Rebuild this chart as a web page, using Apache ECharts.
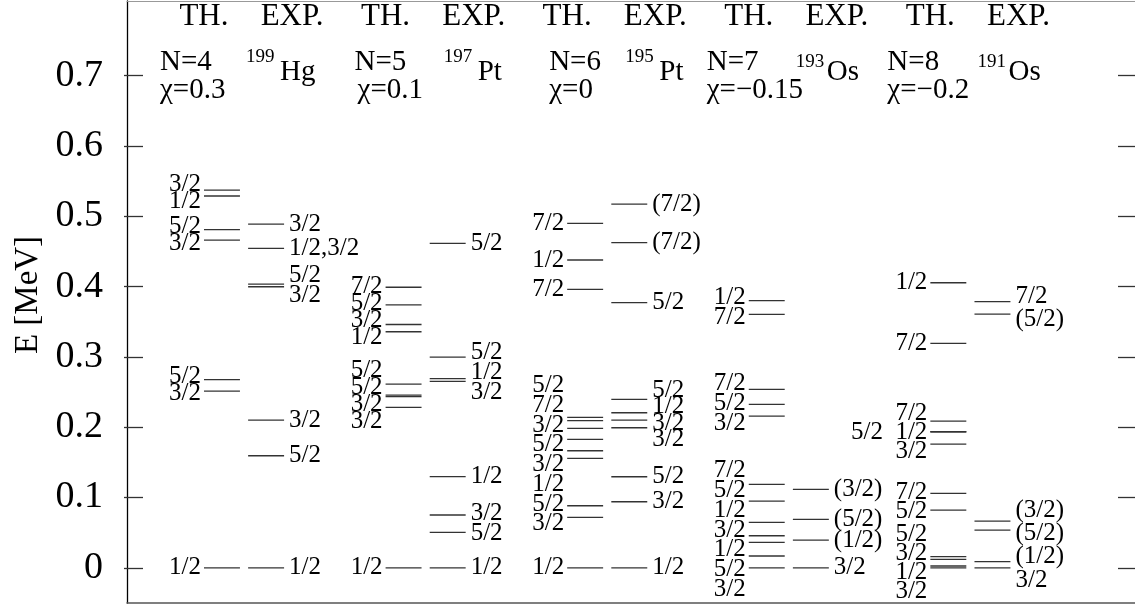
<!DOCTYPE html>
<html lang="en">
<head>
    <meta charset="UTF-8">
    <title>level scheme</title>
    <script src="https://cdn.jsdelivr.net/npm/echarts@6/dist/echarts.min.js"></script>
    <style>
        html, body { margin: 0; height: 100%; background: #fff; }
        #app { width: 1135px; height: 609px; }
    </style>
</head>
<body>
<div id="app"></div>
<script>
    // energies in MeV, spin labels
    var th4 = [[0, '1/2'], [0.2514, '3/2'], [0.2675, '5/2'], [0.466, '3/2'], [0.481, '5/2'], [0.5287, '1/2'], [0.537, '3/2']];
    var hg199 = [[0, '1/2'], [0.1594, '5/2'], [0.2101, '3/2'], [0.3997, '3/2'], [0.4035, '5/2'], [0.4543, '1/2,3/2'], [0.4888, '3/2']];
    var th5 = [[0, '1/2'], [0.2282, '3/2'], [0.2435, '3/2'], [0.2455, '5/2'], [0.2613, '5/2'], [0.3357, '1/2'], [0.346, '3/2'], [0.374, '5/2'], [0.399, '7/2']];
    var pt197 = [[0, '1/2'], [0.0505, '5/2'], [0.0751, '3/2'], [0.1296, '1/2'], [0.265, '3/2'], [0.269, '1/2'], [0.2997, '5/2'], [0.4614, '5/2']];
    var th6 = [[0, '1/2'], [0.0718, '3/2'], [0.0883, '5/2'], [0.1557, '1/2'], [0.1665, '3/2'], [0.1827, '5/2'], [0.1983, '3/2'], [0.2092, '7/2'], [0.214, '5/2'], [0.396, '7/2'], [0.4377, '1/2'], [0.4898, '7/2']];
    var pt195 = [[0, '1/2'], [0.094, '3/2'], [0.1295, '5/2'], [0.1992, '3/2'], [0.2101, '3/2'], [0.2205, '1/2'], [0.2396, '5/2'], [0.377, '5/2'], [0.4623, '(7/2)'], [0.5173, '(7/2)']];
    var th7 = [[0, '3/2'], [0.0168, '5/2'], [0.0363, '1/2'], [0.0456, '3/2'], [0.0647, '1/2'], [0.095, '5/2'], [0.1187, '7/2'], [0.2158, '3/2'], [0.2325, '5/2'], [0.2538, '7/2'], [0.3604, '7/2'], [0.380, '1/2']];
    var os193 = [[0, '3/2'], [0.0395, '(1/2)'], [0.069, '(5/2)'], [0.1116, '(3/2)']];
    var th8 = [[0, '3/2'], [0.0026, '1/2'], [0.0121, '3/2'], [0.0158, '5/2'], [0.0822, '5/2'], [0.1059, '7/2'], [0.176, '3/2'], [0.1935, '5/2'], [0.1935, '1/2'], [0.2087, '7/2'], [0.3192, '7/2'], [0.4054, '1/2']];
    var os191 = [[0, '3/2'], [0.0087, '(1/2)'], [0.0537, '(5/2)'], [0.0665, '(3/2)'], [0.3609, '(5/2)'], [0.3784, '7/2']];

    var nHead = ['N=4', 'N=5', 'N=6', 'N=7', 'N=8'];
    var chiHead = ['\u03c7=0.3', '\u03c7=0.1', '\u03c7=0', '\u03c7=\u22120.15', '\u03c7=\u22120.2'];
    var massNum = ['199', '197', '195', '193', '191'];
    var element = ['Hg', 'Pt', 'Pt', 'Os', 'Os'];
    var ticks = [0, 0.1, 0.2, 0.3, 0.4, 0.5, 0.6, 0.7];

    var thCols = [th4, th5, th6, th7, th8];
    var expCols = [hg199, pt197, pt195, os193, os191];
    var thGap = [0.024, 0.024, 0.028, 0.028, 0.027];
    var expGap = [0.028, 0.028, 0.023, 0.028, 0.033];

    var EXP_DX = 0.243;   // exp column offset from th column
    var HW = 0.099;       // half width of a level line
    var FONT = '"Liberation Serif", "Times New Roman", serif';

    // header layout, px offsets from column centres
    var nDx = [-62, -49, -36, -60, -61];
    var chiDx = [-62, -46, -36, -60, -61];
    var supDx = [-20, -4, -4, -15, -15];
    var supY = [57.5, 57.5, 57.5, 62, 62];
    var elDx = [34, 34, 34, 31, 31];

    // push labels apart so they don't overlap, keeping groups centred
    function layoutLabels(levels, gap) {
        var sorted = levels.slice().sort(function (a, b) { return a[0] - b[0]; });
        var groups = [];
        sorted.forEach(function (l) {
            var last = groups[groups.length - 1];
            if (last && Math.abs(last.e - l[0]) < 1e-9) last.text.push(l[1]);
            else groups.push({ e: l[0], text: [l[1]] });
        });
        var cl = groups.map(function (g) { return { sum: g.e, n: 1, gs: [g] }; });
        var changed = true;
        while (changed) {
            changed = false;
            for (var i = 0; i < cl.length - 1; i++) {
                var a = cl[i], b = cl[i + 1];
                var aTop = a.sum / a.n + (a.n - 1) / 2 * gap;
                var bBot = b.sum / b.n - (b.n - 1) / 2 * gap;
                if (bBot - aTop < gap - 1e-9) {
                    cl.splice(i, 2, { sum: a.sum + b.sum, n: a.n + b.n, gs: a.gs.concat(b.gs) });
                    changed = true;
                    break;
                }
            }
        }
        var out = [];
        cl.forEach(function (c) {
            var mid = c.sum / c.n;
            c.gs.forEach(function (g, k) {
                out.push({ e: mid + (k - (c.n - 1) / 2) * gap, text: g.text.join('\u2002') });
            });
        });
        return out;
    }

    var marks = [], labels = [];
    function addColumn(levels, x, side, gap) {
        levels.forEach(function (l) { marks.push([x, l[0]]); });
        layoutLabels(levels, gap).forEach(function (g) {
            labels.push({ x: x, e: g.e, text: g.text, side: side });
        });
    }
    for (var i = 0; i < 5; i++) {
        addColumn(thCols[i], i, 'left', thGap[i]);
        addColumn(expCols[i], i + EXP_DX, 'right', expGap[i]);
    }

    function txt(s, x, y, size, align) {
        return {
            type: 'text', x: x, y: y,
            style: { text: s, font: size + 'px ' + FONT, fill: '#000', align: align, verticalAlign: 'middle' }
        };
    }

    var tickStyle = { color: '#333', width: 1.3 };
    var option = {
        animation: false,
        backgroundColor: '#fff',
        grid: { left: 127, right: -2, top: 1, bottom: 6, outerBoundsMode: 'none', containLabel: false },
        xAxis: [
            {
                type: 'value', min: -0.523, max: 5.039, position: 'bottom',
                axisLine: { show: true, onZero: false, lineStyle: { color: '#555', width: 1.5 } },
                axisTick: { show: false }, axisLabel: { show: false }, splitLine: { show: false }
            },
            {
                type: 'value', min: -0.523, max: 5.039, position: 'top',
                axisLine: { show: true, onZero: false, lineStyle: { color: '#999', width: 1 } },
                axisTick: { show: false }, axisLabel: { show: false }, splitLine: { show: false }
            }
        ],
        yAxis: [
            {
                type: 'value', min: -0.05, max: 0.806, position: 'left',
                name: 'E [MeV]', nameLocation: 'middle', nameGap: 82,
                nameTextStyle: { fontSize: 33, fontFamily: FONT, color: '#000', padding: [0, 0, 0, 14] },
                axisLine: { show: true, onZero: false, lineStyle: { color: '#000', width: 1.3 } },
                axisTick: { show: true, inside: true, length: 16, customValues: ticks, lineStyle: tickStyle },
                axisLabel: {
                    customValues: ticks, margin: 24, fontSize: 38, fontFamily: FONT, color: '#000',
                    formatter: function (v) { return v === 0 ? '0' : v.toFixed(1); }
                },
                splitLine: { show: false }
            },
            {
                type: 'value', min: -0.05, max: 0.806, position: 'left',
                axisLine: { show: false, onZero: false },
                axisTick: { show: true, inside: false, length: 3, customValues: ticks, lineStyle: tickStyle },
                axisLabel: { show: false }, splitLine: { show: false }
            },
            {
                type: 'value', min: -0.05, max: 0.806, position: 'right',
                axisLine: { show: false, onZero: false },
                axisTick: { show: true, inside: true, length: 19, customValues: ticks, lineStyle: tickStyle },
                axisLabel: { show: false }, splitLine: { show: false }
            }
        ],
        series: [
            {
                type: 'custom',
                data: marks,
                renderItem: function (params, api) {
                    var p1 = api.coord([api.value(0) - HW, api.value(1)]);
                    var p2 = api.coord([api.value(0) + HW, api.value(1)]);
                    return {
                        type: 'line',
                        shape: { x1: p1[0], y1: p1[1], x2: p2[0], y2: p2[1] },
                        style: { stroke: '#333', lineWidth: 1.3 }
                    };
                }
            },
            {
                type: 'custom',
                data: labels.map(function (l) { return [l.x, l.e]; }),
                renderItem: function (params, api) {
                    var lab = labels[params.dataIndex];
                    var left = lab.side === 'left';
                    var p = api.coord([api.value(0) + (left ? -HW : HW), api.value(1)]);
                    return txt(lab.text, p[0] + (left ? -3 : 5), p[1], 25, left ? 'right' : 'left');
                }
            },
            {
                type: 'custom',
                data: [[0, 0], [1, 0], [2, 0], [3, 0], [4, 0]],
                renderItem: function (params, api) {
                    var i = params.dataIndex;
                    var cx = api.coord([api.value(0), 0])[0];
                    var ex = api.coord([api.value(0) + EXP_DX, 0])[0];
                    return {
                        type: 'group',
                        children: [
                            txt('TH.', cx - 18, 17, 31, 'center'),
                            txt('EXP.', ex + 26, 17, 31, 'center'),
                            txt(nHead[i], cx + nDx[i], 62.5, 29, 'left'),
                            txt(chiHead[i], cx + chiDx[i], 90.5, 29, 'left'),
                            txt(massNum[i], ex + supDx[i], supY[i], 19, 'left'),
                            txt(element[i], ex + supDx[i] + elDx[i], 72.5, 29, 'left')
                        ]
                    };
                }
            }
        ]
    };

    var myChart = echarts.init(document.getElementById('app'));
    myChart.setOption(option);
</script>
</body>
</html>
